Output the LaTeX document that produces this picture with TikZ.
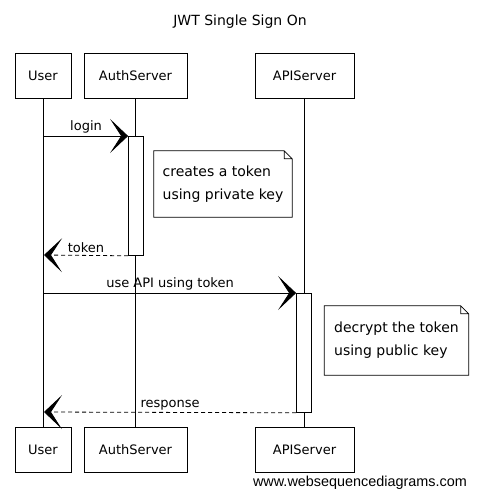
\documentclass[tikz,border=0pt]{standalone}
\usepackage{fontspec}
\setmainfont{DejaVu Sans}
\newfontfamily\webfont{Liberation Sans}
\usetikzlibrary{arrows.meta}

\begin{document}
\begin{tikzpicture}[x=1pt,y=-1pt,
  actor/.style={draw=black,line width=0.8pt,fill=white,minimum height=45pt,inner sep=0pt,font=\fontsize{13}{15}\selectfont},
  activation/.style={draw=black,line width=0.8pt,fill=white,minimum width=15pt,minimum height=119pt,inner sep=0pt,anchor=north},
  msg/.style={line width=0.8pt,-{Stealth[length=18pt,width=34pt,inset=11pt]}},
  reply/.style={msg,dash pattern=on 4pt off 3pt},
  lbl/.style={font=\fontsize{13}{15}\selectfont,inner sep=2pt,midway,above},
  notetext/.style={align=left,font=\fontsize{14}{23}\selectfont,inner sep=0pt}]

\useasboundingbox (0,0) rectangle (477,496);

% Title
\node[font=\fontsize{14}{16}\selectfont] (title) at (240,22) {JWT Single Sign On};

% Participants, top and bottom
\node[actor,minimum width=56pt] (User) at (43,75.5) {User};
\node[actor,minimum width=103pt] (Auth) at (135.5,75.5) {AuthServer};
\node[actor,minimum width=99pt] (API) at (304.5,75.5) {APIServer};
\node[actor,minimum width=56pt] (UserB) at (43,449.5) {User};
\node[actor,minimum width=103pt] (AuthB) at (135.5,449.5) {AuthServer};
\node[actor,minimum width=99pt] (APIB) at (304.5,449.5) {APIServer};

% Lifelines
\draw[line width=0.8pt] (User) -- (UserB);
\draw[line width=0.8pt] (Auth) -- (AuthB);
\draw[line width=0.8pt] (API) -- (APIB);

% Activation boxes
\node[activation] (authact) at (136,136) {};
\node[activation] (apiact) at (304,293) {};

% Coordinate points on the User line
\coordinate (login) at (44,136);
\coordinate (token) at (44,255);
\coordinate (useapi) at (44,293);
\coordinate (response) at (44,412);

% Messages
\draw[msg] (login) -- node[lbl] {login} (authact.north west);
\draw[reply] (authact.south west) -- node[lbl] {token} (token);
\draw[msg] (useapi) -- node[lbl] {use API using token} (apiact.north west);
\draw[reply] (apiact.south west) -- node[lbl] {response} (response);

% Notes
\node[notetext,minimum width=138pt,minimum height=66pt] (note1) at (223,184) {creates a token\\using private key};
\node[notetext,minimum width=144pt,minimum height=69pt] (note2) at (396.5,340.5) {decrypt the token\\using public key};
\foreach \n in {note1,note2}
  \draw[line width=0.8pt] (\n.north west) -- ([xshift=-8pt]\n.north east) -- ([yshift=-8pt]\n.north east)
    -- (\n.south east) -- (\n.south west) -- cycle
    ([xshift=-8pt]\n.north east) -- ([xshift=-8pt,yshift=-8pt]\n.north east) -- ([yshift=-8pt]\n.north east);

% Credit
\node[anchor=east,font=\webfont\fontsize{14.4}{16}\selectfont,inner sep=0pt] (credit) at (467,483) {www.websequencediagrams.com};

\end{tikzpicture}
\end{document}
